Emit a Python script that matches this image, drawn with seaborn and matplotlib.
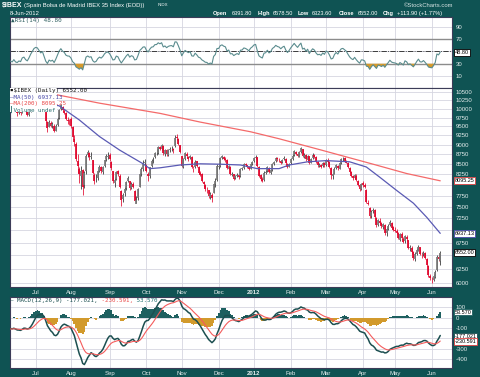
import matplotlib
matplotlib.use('Agg')
import matplotlib.pyplot as plt
import matplotlib.transforms as mtransforms
from matplotlib.patches import Rectangle
from matplotlib.ticker import FixedFormatter, FixedLocator, NullLocator
import numpy as np
import pandas as pd
import seaborn as sns

sns.set_style('white')
plt.rcParams['font.family'] = ['Liberation Sans', 'DejaVu Sans']

# ****************************************************************************
# Data
# ****************************************************************************
holidays = ['2011-12-26', '2012-04-06', '2012-04-09', '2012-05-01']
dates = pd.bdate_range('2011-06-10', '2012-06-08').drop(pd.to_datetime(holidays))

prev_close = 10080

close = [
    10060, 10000, 10090, 9920, 9870, 9930, 9880, 10020, 10050, 9900, 9820, 9930, 10080, 10210, 10360,
    10420, 10400, 10290, 10180, 10240, 9990, 9660, 9460, 9610, 9520, 9560, 9370, 9520, 9720, 9960, 10110, 9960, 9890, 9700, 9640, 9630,
    9500, 9200, 9060, 8620, 8460, 8260, 8330, 7960, 8290, 8720, 8800, 8680, 8710, 8290, 8100, 8150, 8320, 8420, 8330, 8430, 8600, 8700, 8720,
    8620, 8400, 8090, 8110, 8310, 8250, 7940, 7640, 7770, 7910, 8060, 8170, 7920, 8010, 7950, 7630, 7660, 7900, 8250, 8380, 8540, 8550,
    8320, 8210, 8420, 8580, 8610, 8790, 8800, 8950, 8900, 8990, 8780, 8850, 8760, 8850, 8890, 8900, 8850, 9190, 9180, 9020, 8810,
    8450, 8620, 8780, 8700, 8640, 8700, 8420, 8400, 8560, 8450, 8290, 8240, 8090, 8010, 7900, 7880, 7740, 7780, 7700, 8010, 8100, 8450,
    8450, 8650, 8700, 8640, 8610, 8400, 8460, 8250, 8260, 8150, 8200, 8240, 8190, 8390, 8400, 8500, 8480, 8440, 8390, 8500, 8560,
    8650, 8680, 8460, 8220, 8150, 8100, 8290, 8310, 8420, 8300, 8350, 8500, 8560, 8660, 8620, 8600, 8540, 8610, 8650, 8520, 8430, 8510,
    8620, 8720, 8830, 8760, 8700, 8810, 8910, 8700, 8740, 8620, 8710, 8520, 8640, 8740, 8690, 8560, 8470, 8490, 8440, 8530, 8470,
    8600, 8560, 8430, 8230, 8250, 8390, 8470, 8400, 8520, 8620, 8640, 8590, 8540, 8420, 8300, 8210, 8160, 8230, 8110, 8000, 7910, 8010,
    8000, 7950, 7600, 7570, 7300, 7380, 7440, 7280, 7100, 7210, 7160, 7080, 7120, 6940, 7020, 7090, 7170, 7050, 7010,
    6990, 6950, 6850, 6920, 6850, 6760, 6880, 6820, 6640, 6660, 6560, 6450, 6520, 6600, 6670, 6520, 6510, 6550, 6450, 6320, 6130, 6090,
    6065, 6120, 6200, 6480, 6438, 6552,
]
opens = [
    10040, 10070, 9990, 10080, 9900, 9880, 9920, 9890, 10010, 10030, 9910, 9810, 9940, 10090, 10220,
    10380, 10430, 10390, 10280, 10170, 10220, 9900, 9610, 9490, 9600, 9510, 9520, 9380, 9540, 9730, 9990, 10060, 9950, 9880, 9680, 9620,
    9700, 9480, 9150, 9010, 8590, 8380, 8210, 8350, 8000, 8330, 8740, 8790, 8690, 8600, 8230, 8140, 8170, 8330, 8420, 8310, 8460, 8620, 8690,
    8740, 8560, 8320, 8050, 8150, 8320, 8220, 7860, 7680, 7800, 7930, 8100, 8090, 7930, 8030, 7850, 7560, 7700, 7960, 8270, 8370, 8530,
    8480, 8250, 8200, 8450, 8600, 8680, 8810, 8790, 8930, 8890, 8970, 8770, 8860, 8740, 8860, 8900, 8890, 8960, 9200, 9160, 8990,
    8700, 8430, 8640, 8760, 8680, 8650, 8690, 8380, 8420, 8570, 8440, 8280, 8250, 8060, 7990, 7890, 7870, 7730, 7770, 7820, 8020, 8120,
    8430, 8460, 8660, 8690, 8630, 8600, 8390, 8440, 8240, 8250, 8160, 8210, 8230, 8200, 8380, 8410, 8500, 8470, 8430, 8380, 8500,
    8570, 8660, 8670, 8440, 8230, 8140, 8110, 8290, 8320, 8410, 8290, 8360, 8500, 8570, 8650, 8610, 8590, 8550, 8620, 8640, 8510, 8440,
    8520, 8630, 8730, 8820, 8750, 8690, 8800, 8890, 8690, 8730, 8610, 8700, 8540, 8650, 8730, 8680, 8550, 8460, 8480, 8450, 8520,
    8480, 8610, 8550, 8410, 8210, 8260, 8400, 8460, 8390, 8530, 8630, 8650, 8580, 8530, 8410, 8300, 8200, 8170, 8220, 8100, 7990, 7900,
    8050, 7990, 7880, 7590, 7470, 7310, 7400, 7420, 7260, 7110, 7200, 7150, 7060, 7100, 6950, 7030, 7100, 7160, 7060,
    7010, 6980, 6950, 6800, 6930, 6830, 6780, 6870, 6800, 6640, 6650, 6560, 6440, 6530, 6590, 6660, 6510, 6520, 6540, 6440, 6310, 6120,
    6070, 6050, 6110, 6220, 6470, 6392,
]
highs = [
    10110, 10090, 10130, 10090, 9950, 9990, 9940, 10050, 10110, 10040, 9940, 9960, 10100, 10240, 10380,
    10460, 10470, 10410, 10300, 10280, 10250, 9920, 9640, 9680, 9640, 9620, 9560, 9560, 9760, 10000, 10150, 10080, 9990, 9900, 9760, 9720,
    9760, 9510, 9250, 9070, 8760, 8440, 8450, 8390, 8320, 8760, 8860, 8820, 8800, 8610, 8290, 8250, 8360, 8480, 8450, 8460, 8640, 8760, 8800,
    8780, 8580, 8330, 8180, 8340, 8360, 8260, 7880, 7820, 7960, 8090, 8220, 8100, 8060, 8070, 7870, 7740, 7930, 8290, 8420, 8600, 8620,
    8500, 8310, 8440, 8620, 8680, 8820, 8880, 8980, 8960, 9020, 8990, 8880, 8880, 8880, 8940, 8960, 8920, 9250, 9290, 9180, 9000,
    8720, 8660, 8820, 8800, 8720, 8740, 8700, 8450, 8600, 8590, 8460, 8330, 8280, 8100, 8010, 7960, 7880, 7830, 7820, 8050, 8170, 8500,
    8520, 8680, 8740, 8720, 8680, 8620, 8490, 8460, 8310, 8270, 8240, 8290, 8260, 8410, 8440, 8530, 8530, 8490, 8450, 8520, 8590,
    8690, 8730, 8690, 8460, 8260, 8190, 8320, 8350, 8460, 8420, 8380, 8530, 8590, 8690, 8680, 8650, 8610, 8640, 8700, 8660, 8540, 8540,
    8650, 8760, 8860, 8840, 8780, 8840, 8950, 8900, 8780, 8750, 8740, 8720, 8660, 8780, 8760, 8700, 8570, 8520, 8510, 8560, 8550,
    8640, 8650, 8580, 8420, 8290, 8420, 8500, 8480, 8550, 8660, 8680, 8670, 8600, 8550, 8430, 8320, 8240, 8260, 8250, 8120, 8020, 8050,
    8080, 8040, 7900, 7660, 7490, 7420, 7480, 7450, 7280, 7230, 7250, 7170, 7160, 7120, 7060, 7140, 7220, 7180, 7090,
    7060, 7020, 6970, 6940, 6960, 6860, 6910, 6900, 6810, 6710, 6680, 6580, 6560, 6640, 6700, 6670, 6560, 6580, 6570, 6460, 6320, 6160,
    6110, 6160, 6230, 6500, 6520, 6579,
]
lows = [
    9990, 9960, 9970, 9900, 9790, 9850, 9830, 9880, 9970, 9880, 9780, 9790, 9910, 10060, 10200,
    10350, 10370, 10260, 10140, 10150, 9960, 9620, 9330, 9470, 9480, 9460, 9340, 9360, 9510, 9700, 9960, 9930, 9850, 9680, 9570, 9540,
    9450, 9150, 8980, 8580, 8280, 8050, 7900, 7770, 7920, 8250, 8690, 8610, 8630, 8270, 8010, 8060, 8120, 8300, 8280, 8260, 8420, 8580, 8640,
    8580, 8360, 8040, 7960, 8120, 8200, 7920, 7520, 7600, 7740, 7890, 8060, 7880, 7900, 7930, 7620, 7590, 7640, 7940, 8220, 8340, 8460,
    8300, 8080, 8160, 8420, 8540, 8660, 8740, 8760, 8860, 8870, 8740, 8720, 8720, 8700, 8820, 8840, 8790, 8940, 9130, 8990, 8790,
    8420, 8400, 8610, 8660, 8590, 8620, 8400, 8310, 8400, 8420, 8260, 8200, 8060, 7950, 7860, 7820, 7700, 7680, 7610, 7800, 7960, 8100,
    8380, 8440, 8620, 8600, 8560, 8380, 8370, 8230, 8200, 8120, 8130, 8180, 8150, 8180, 8350, 8390, 8450, 8410, 8360, 8370, 8480,
    8550, 8630, 8430, 8190, 8100, 8060, 8100, 8260, 8300, 8280, 8270, 8340, 8480, 8560, 8590, 8560, 8510, 8530, 8600, 8500, 8400, 8420,
    8500, 8610, 8720, 8730, 8680, 8670, 8790, 8680, 8660, 8590, 8580, 8500, 8520, 8630, 8660, 8540, 8440, 8430, 8400, 8420, 8440,
    8460, 8530, 8410, 8150, 8140, 8250, 8380, 8360, 8380, 8510, 8590, 8570, 8520, 8400, 8280, 8180, 8120, 8140, 8090, 7970, 7860, 7880,
    7960, 7920, 7580, 7530, 7260, 7260, 7360, 7260, 7060, 7080, 7120, 7040, 7030, 6910, 6890, 7000, 7080, 7020, 6980,
    6960, 6920, 6820, 6780, 6830, 6740, 6750, 6790, 6620, 6590, 6530, 6420, 6400, 6500, 6580, 6500, 6460, 6490, 6430, 6300, 6100, 6050,
    6000, 6030, 6080, 6210, 6400, 6324,
]

# moving averages read at a few trading-day positions
ma50_day = [0, 15, 29, 41, 53, 65, 79, 83, 89, 101, 113, 125, 137, 147, 160, 166, 177, 188, 202, 212, 220, 230, 240, 248, 256]
ma50 = [10300, 10230, 10090, 9680, 9220, 8860, 8510, 8390, 8410, 8480, 8510, 8500, 8480, 8390, 8390, 8480, 8560, 8590, 8560, 8430, 8180, 7870, 7580, 7270, 6937]
ma200_day = [0, 28, 53, 89, 113, 143, 160, 185, 216, 236, 256]
ma200 = [10500, 10420, 10170, 9870, 9620, 9350, 9160, 8862, 8500, 8270, 8095]

# indicator state at the left edge of the chart
rsi_avg_gain0, rsi_avg_loss0 = 45.0, 85.0
ema12_0, ema26_0, signal0 = 10150.0, 10255.0, -110.0

price_ticks = [10500, 10250, 10000, 9750, 9500, 9250, 9000, 8750, 8500, 8250, 8000, 7750, 7500, 7250, 7000, 6750, 6500, 6250, 6000]
price_tick_labels = ['10500', '10250', '10000', '9750', '9500', '9250', '9000', '8750', '8500', '8250', '', '7750', '7500', '7250', '', '6750', '', '6250', '6000']
rsi_ticks = [90, 70, 50, 30, 10]
rsi_tick_labels = ['90', '70', '', '30', '10']
macd_ticks = [100, 0, -100, -200, -300, -400]
macd_tick_labels = ['100', '0', '-100', '', '-300', '-400']

close = np.array(close, float)
opens = np.array(opens, float)
highs = np.array(highs, float)
lows = np.array(lows, float)
n = len(close)
assert len(dates) == n == len(opens) == len(highs) == len(lows)
days = np.arange(n)

# ****************************************************************************
# Indicators
# ****************************************************************************
prev = np.r_[prev_close, close[:-1]]
delta = close - prev
rsi = np.zeros(n)
ag, al = rsi_avg_gain0, rsi_avg_loss0
for i, d in enumerate(delta):
    ag = (ag * 13 + max(d, 0)) / 14
    al = (al * 13 + max(-d, 0)) / 14
    rsi[i] = 100 - 100 / (1 + ag / al)

macd = np.zeros(n)
signal = np.zeros(n)
e12, e26, sg = ema12_0, ema26_0, signal0
for i, c in enumerate(close):
    e12 += 2 / 13 * (c - e12)
    e26 += 2 / 27 * (c - e26)
    macd[i] = e12 - e26
    sg += 0.2 * (macd[i] - sg)
    signal[i] = sg
hist = macd - signal

# ****************************************************************************
# Plotting
# ****************************************************************************
BG = '#0f5353'
GRID = '#d6d6e0'
TXT = '#e6eeee'
W_PX, H_PX = 480, 377

def fx(px):
    return px / W_PX

def fy(py):
    return 1 - py / H_PX

fig = plt.figure(figsize=(4.8, 3.77), dpi=100, facecolor=BG)

months = dates.to_period('M')
starts = [i for i in range(1, n) if months[i] != months[i - 1]]
month_labels = ['2012' if dates[i].month == 1 else dates[i].strftime('%b') for i in starts]

def panel(top, bottom):
    ax = fig.add_axes([fx(9.5), fy(bottom), fx(452) - fx(9.5), (bottom - top) / H_PX])
    ax.set_facecolor('white')
    ax.set_xlim(-0.6, 263)
    ax.set_xticks(starts)
    ax.grid(True, color=GRID, lw=0.6)
    ax.set_axisbelow(True)
    for s in ax.spines.values():
        s.set_color('#3c3c58')
        s.set_linewidth(0.8)
    ax.yaxis.tick_right()
    ax.tick_params(axis='both', length=0, labelsize=4.3, labelcolor=TXT, pad=2.5)
    return ax

def month_ticks(ax, show):
    if show:
        ax.set_xticklabels(month_labels)
        for t in ax.get_xticklabels():
            if t.get_text() == '2012':
                t.set_fontweight('bold')
    else:
        ax.set_xticklabels([])

def value_box(ax, val, txt, ec):
    tr = mtransforms.blended_transform_factory(ax.transAxes, ax.transData)
    ax.text(1.006, val, txt, transform=tr, fontsize=4.0, ha='left', va='center',
            color='black', clip_on=False, zorder=10,
            bbox=dict(boxstyle='square,pad=0.15', fc='white', ec=ec, lw=0.6))

# --- RSI panel
ax_rsi = panel(17, 87.5)
ax_rsi.set_ylim(-8.8, 106.3)
ax_rsi.yaxis.set_major_locator(FixedLocator(rsi_ticks))
ax_rsi.yaxis.set_major_formatter(FixedFormatter(rsi_tick_labels))
month_ticks(ax_rsi, False)
ax_rsi.axhline(70, color='#8c8c8c', lw=1.0, zorder=1)
ax_rsi.axhline(30, color='#8c8c8c', lw=1.0, zorder=1)
ax_rsi.axhline(50, color='#222222', lw=0.6, ls='-.', zorder=1)
ax_rsi.fill_between(days, rsi, 30, where=rsi < 30, interpolate=True, color='#d69a2c', lw=0, zorder=2)
sns.lineplot(x=days, y=rsi, ax=ax_rsi, color='#5a8c8e', lw=0.8, zorder=3)
ax_rsi.set_xlabel('')
ax_rsi.set_ylabel('')
value_box(ax_rsi, 48.8, '48.80', 'black')

# --- price panel
ax_px = panel(87.5, 287)
ax_px.set_yscale('log')
ax_px.set_ylim(5925, 10649)
ax_px.yaxis.set_major_locator(FixedLocator(price_ticks))
ax_px.yaxis.set_major_formatter(FixedFormatter(price_tick_labels))
ax_px.yaxis.set_minor_locator(NullLocator())
month_ticks(ax_px, True)

up = close >= prev
hollow = close > opens
wick_col = np.where(up, '#2a2a2a', '#e0062c')
body_col = np.where(up, np.where(hollow, '#7a7a7a', '#2a2a2a'),
                    np.where(hollow, '#f07d90', '#e0062c'))
ax_px.vlines(days, lows, highs, colors=wick_col, lw=0.55, zorder=2)
ax_px.vlines(days, np.minimum(opens, close), np.maximum(opens, close),
             colors=body_col, lw=1.25, zorder=2)
sns.lineplot(x=ma50_day, y=ma50, ax=ax_px, color='#5a5ab4', lw=0.9, zorder=3)
sns.lineplot(x=ma200_day, y=ma200, ax=ax_px, color='#f46a6a', lw=0.9, zorder=3)
ax_px.set_xlabel('')
ax_px.set_ylabel('')
ax_px.add_patch(Rectangle((0, 1 - (112 - 87.5) / 199.5), (56.5 - 9.5) / 442.5, (112 - 87.5) / 199.5,
                          transform=ax_px.transAxes, fc='white', ec='none', zorder=5))
value_box(ax_px, 8095.25, '8095.25', '#e04040')
value_box(ax_px, 6937.13, '6937.13', '#4848a8')
value_box(ax_px, 6552.00, '6552.00', 'black')

# --- MACD panel
ax_macd = panel(297, 368)
ax_macd.set_ylim(-484, 199)
ax_macd.yaxis.set_major_locator(FixedLocator(macd_ticks))
ax_macd.yaxis.set_major_formatter(FixedFormatter(macd_tick_labels))
month_ticks(ax_macd, True)
ax_macd.bar(days, hist, width=1.0, color=np.where(hist >= 0, '#1e6060', '#d29a2c'), lw=0, zorder=2)
sns.lineplot(x=days, y=macd, ax=ax_macd, color='#1c4f50', lw=1.1, zorder=3)
sns.lineplot(x=days, y=signal, ax=ax_macd, color='#f45c5c', lw=0.8, zorder=3)
ax_macd.set_xlabel('')
ax_macd.set_ylabel('')
value_box(ax_macd, 53.57, '53.570', '#1e6060')
value_box(ax_macd, -177.021, '-177.021', '#1c4f50')
value_box(ax_macd, -230.591, '-230.591', '#e04040')

# --- header texts
fig.text(fx(2), fy(5.5), '$IBEX', fontsize=5.0, fontweight='bold', color='white', va='center')
fig.text(fx(23.5), fy(5.5), '(Spain Bolsa de Madrid IBEX 35 Index (EOD))', fontsize=4.2, color='white', va='center')
fig.text(fx(157.5), fy(5.5), 'INDX', fontsize=3.2, color='white', va='center')
fig.text(fx(453), fy(5.5), '\u00a9StockCharts.com', fontsize=4.2, color='#d8e4e4', va='center', ha='right')
fig.text(fx(10), fy(13.3), '8-Jun-2012', fontsize=4.2, color='white', va='center')
head = [(213, 'Open', True), (232, '6391.80', False), (258, 'High', True), (273, '6578.50', False),
        (298, 'Low', True), (312, '6323.60', False), (339, 'Close', True), (357.5, '6552.00', False),
        (383, 'Chg', True), (397, '+113.90 (+1.77%)', False)]
for px_, s, bold in head:
    fig.text(fx(px_), fy(13.3), s, fontsize=4.1, color='white', va='center',
             fontweight='bold' if bold else 'normal')

# --- legends inside panels
mono = 'DejaVu Sans Mono'
fig.text(fx(11), fy(20.7), '\u25b2RSI(14) 48.80', fontsize=4.3, family=mono, color='#2f5f60', va='center', zorder=20)
legend_rows = [(90.7, '\u25aa$IBEX (Daily) 6552.00', '#111111'),
               (97.0, '\u2014MA(50) 6937.13', '#4a4aa8'),
               (103.3, '\u2014MA(200) 8095.25', '#e84848'),
               (109.5, '\u258eVolume undef', '#2c7272')]
for py_, s, c in legend_rows:
    fig.text(fx(10.5), fy(py_), s, fontsize=4.2, family=mono, color=c, va='center', zorder=20)
x0 = 10.5
cw = 3.5
parts = [('\u2014 MACD(12,26,9) -177.021,', '#1c4f50'), (' -230.591,', '#e84848'), (' 53.570', '#1e7070')]
for s, c in parts:
    fig.text(fx(x0), fy(300.7), s, fontsize=4.2, family=mono, color=c, va='center', zorder=20)
    x0 += cw * len(s)

fig.savefig('out.png', dpi=100, facecolor=BG)
